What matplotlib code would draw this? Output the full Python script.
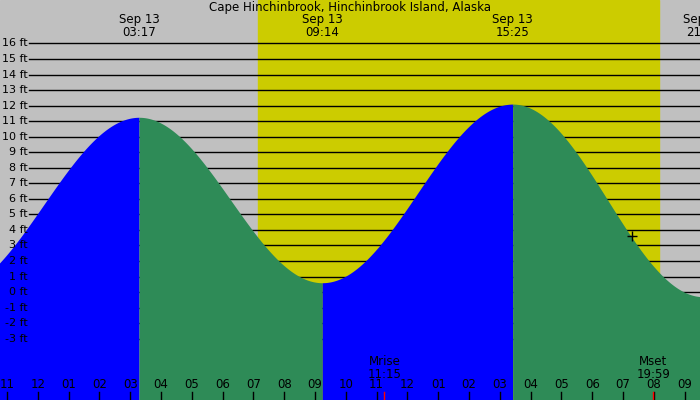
import numpy as np
import matplotlib
matplotlib.use("Agg")
import matplotlib.pyplot as plt

# tide extremes (hours relative to Sep 13 00:00, feet)
ext_times = [-2.9, 3.283, 9.233, 15.417, 21.6]
ext_heights = [0.0, 11.25, 0.6, 12.1, -0.3]
top_labels = ["Sep 13\n03:17", "Sep 13\n09:14", "Sep 13\n15:25", "Sep 13\n21:35"]
sunrise, sunset = 7.15, 20.17
moonrise, moonset = 11.25, 19.98
y_ticks = list(range(-3, 17))
hour_ticks = list(range(-1, 22))

x0, x1 = -1.23, 21.5
y0, y1 = -6.95, 18.8

fig = plt.figure(figsize=(7, 4), dpi=100)
ax = fig.add_axes([0, 0, 1, 1])
ax.set_xlim(x0, x1); ax.set_ylim(y0, y1); ax.axis("off")
ax.axvspan(x0, x1, color="#c0c0c0", zorder=0)
ax.axvspan(sunrise, sunset, color="#cccc00", zorder=0)

gx0 = x0 + 29 / 30.8
for v in y_ticks:
    ax.plot([gx0, x1], [v, v], color="black", lw=1, zorder=1)
    ax.text(gx0 - 0.05, v, f"{v} ft", ha="right", va="center", fontsize=8, zorder=3)

for i in range(len(ext_times) - 1):
    ta, tb = ext_times[i], ext_times[i + 1]
    ha, hb = ext_heights[i], ext_heights[i + 1]
    t = np.linspace(ta, tb, 200)
    h = (ha + hb) / 2 + (ha - hb) / 2 * np.cos(np.pi * (t - ta) / (tb - ta))
    col = "#0000ff" if hb > ha else "#2e8b57"
    ax.fill_between(t, y0, h, color=col, lw=0, zorder=2)

for t, lab in zip(ext_times[1:], top_labels):
    ax.text(t, y1 - 0.85, lab, ha="center", va="top", fontsize=8.5, linespacing=0.95, zorder=3)
ax.text((x0 + x1) / 2, y1 - 0.05, "Cape Hinchinbrook, Hinchinbrook Island, Alaska",
        ha="center", va="top", fontsize=8.5, zorder=3)

tick_len = 8 / 15.55
for hr in hour_ticks:
    ax.plot([hr, hr], [y0, y0 + tick_len], color="black", lw=1, zorder=3)
    ax.text(hr, y0 + tick_len + 0.05, f"{hr % 12 if hr % 12 else 12:02d}", ha="center",
            va="bottom", fontsize=8.5, zorder=3)
for t, name in [(moonrise, "Mrise"), (moonset, "Mset")]:
    ax.plot([t, t], [y0, y0 + tick_len], color="red", lw=1, zorder=4)
    hh, mm = int(t), int(round((t - int(t)) * 60))
    ax.text(t, y0 + 1.25, f"{name}\n{hh}:{mm:02d}", ha="center", va="bottom",
            fontsize=8.5, linespacing=0.95, zorder=3)
ax.plot([19.3], [3.6], marker="+", color="black", ms=7, zorder=4)

fig.savefig("out.png", dpi=100)
